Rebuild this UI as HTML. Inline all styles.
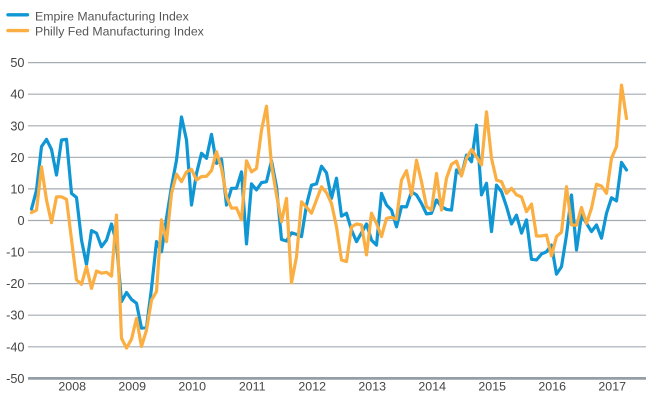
<!DOCTYPE html>
<html>
<head>
<meta charset="utf-8">
<style>
  html, body { margin: 0; padding: 0; background: #ffffff; }
  body { width: 650px; height: 400px; overflow: hidden; }
  svg { display: block; font-family: "Liberation Sans", Arial, sans-serif; }
</style>
</head>
<body>
<svg width="650" height="400" viewBox="0 0 650 400" xmlns="http://www.w3.org/2000/svg">
  <rect x="0" y="0" width="650" height="400" fill="#ffffff"/>

  <!-- Legend -->
  <line x1="8" y1="14.8" x2="27.5" y2="14.8" stroke="#0f96d4" stroke-width="3.4" stroke-linecap="round"/>
  <line x1="8" y1="30.6" x2="27.5" y2="30.6" stroke="#fbae42" stroke-width="3.4" stroke-linecap="round"/>
  <text x="35" y="20.6" font-size="12.3" fill="#555555">Empire Manufacturing Index</text>
  <text x="35" y="35.6" font-size="12.3" fill="#555555">Philly Fed Manufacturing Index</text>

  <!-- Gridlines -->
  <g stroke="#a3abb3" stroke-width="1.2">
    <line x1="28" y1="62.6" x2="646" y2="62.6"/>
    <line x1="28" y1="94.2" x2="646" y2="94.2"/>
    <line x1="28" y1="125.8" x2="646" y2="125.8"/>
    <line x1="28" y1="157.3" x2="646" y2="157.3"/>
    <line x1="28" y1="188.9" x2="646" y2="188.9"/>
    <line x1="28" y1="220.5" x2="646" y2="220.5"/>
    <line x1="28" y1="252.1" x2="646" y2="252.1"/>
    <line x1="28" y1="283.6" x2="646" y2="283.6"/>
    <line x1="28" y1="315.2" x2="646" y2="315.2"/>
    <line x1="28" y1="346.8" x2="646" y2="346.8"/>
  </g>
  <line x1="28" y1="378.4" x2="646" y2="378.4" stroke="#949ea7" stroke-width="2.8"/>

  <!-- Y labels -->
  <g font-size="12.7" fill="#444444" text-anchor="end">
    <text x="24.5" y="67.1">50</text>
    <text x="24.5" y="98.7">40</text>
    <text x="24.5" y="130.3">30</text>
    <text x="24.5" y="161.8">20</text>
    <text x="24.5" y="193.4">10</text>
    <text x="24.5" y="225">0</text>
    <text x="24.5" y="256.6">-10</text>
    <text x="24.5" y="288.1">-20</text>
    <text x="24.5" y="319.7">-30</text>
    <text x="24.5" y="351.3">-40</text>
    <text x="24.5" y="382.9">-50</text>
  </g>

  <!-- X labels -->
  <g font-size="12.4" fill="#444444" text-anchor="middle">
    <text x="72.2" y="390.7">2008</text>
    <text x="132.2" y="390.7">2009</text>
    <text x="192.2" y="390.7">2010</text>
    <text x="252.2" y="390.7">2011</text>
    <text x="312.2" y="390.7">2012</text>
    <text x="372.2" y="390.7">2013</text>
    <text x="432.2" y="390.7">2014</text>
    <text x="492.2" y="390.7">2015</text>
    <text x="552.2" y="390.7">2016</text>
    <text x="612.2" y="390.7">2017</text>
  </g>

  <!-- Series -->
  <g transform="matrix(5 0 0 -3.157 31.5 220.5)" fill="none" stroke-linejoin="round" stroke-linecap="round">
    <polyline vector-effect="non-scaling-stroke" stroke="#0f96d4" stroke-width="3.2" points="
0,3.6 1,9.6 2,23.4 3,25.7 4,22.5 5,14.4 6,25.5 7,25.7 8,8.6 9,7.3
10,-6.2 11,-14 12,-3.2 13,-4 14,-8.3 15,-6.2 16,-1.1 17,-7 18,-25.7 19,-22.8
20,-25 21,-26.2 22,-34.1 23,-33.9 24,-21.5 25,-6.7 26,-9.9 27,0.7 28,10.7 29,19.1
30,32.8 31,25.5 32,4.9 33,14.9 34,21.3 35,19.7 36,27.3 37,18.1 38,19.4 39,4.9
40,10.2 41,10.2 42,15.4 43,-7.4 44,11.6 45,9.7 46,12 47,12.3 48,18.9 49,10.7
50,-6 51,-6.5 52,-3.9 53,-4.4 54,-5.1 55,4.9 56,11.2 57,11.6 58,17.2 59,15.1
60,7 61,13.4 62,1.4 63,2.3 64,-3 65,-6.7 66,-3.9 67,-1.1 68,-6.2 69,-7.8
70,8.6 71,4.9 72,3.3 73,-2 74,4.4 75,4.3 76,9.1 77,8.1 78,5.4 79,2.1
80,2.3 81,6.5 82,4.4 83,3.5 84,3.3 85,16 86,14.4 87,20.7 88,18.6 89,30.2
90,8.1 91,11.8 92,-3.5 93,11.2 94,9.1 95,4.4 96,-1.1 97,1.7 98,-4 99,0.2
100,-12.3 101,-12.5 102,-10.6 103,-9.9 104,-7.8 105,-17 106,-14.6 107,-4.6 108,8.1 109,-9.3
110,1.7 111,-0.9 112,-3.5 113,-1.4 114,-5.6 115,2.3 116,7.2 117,6.2 118,18.4 119,16"/>
    <polyline vector-effect="non-scaling-stroke" stroke="#fbae42" stroke-width="3.2" points="
0,2.5 1,3.3 2,17 3,6.5 4,-0.7 5,7.5 6,7.5 7,6.7 8,-6 9,-18.8
10,-20.2 11,-14.6 12,-21.5 13,-16 14,-16.7 15,-16.4 16,-17.6 17,1.7 18,-37.3 19,-40.4
20,-37.6 21,-31 22,-39.9 23,-34.7 24,-25.2 25,-22.5 26,0.2 27,-6.7 28,8.6 29,14.7
30,12.3 31,15.4 32,16.2 33,12.8 34,13.9 35,14 36,15.8 37,21.8 38,16.5 39,7.5
40,3.9 41,4 42,0.2 43,18.9 44,15.4 45,16.5 46,28.6 47,36.2 48,17.6 49,8.1
50,-0.4 51,7 52,-19.7 53,-11.5 54,5.9 55,4.2 56,2.3 57,6.5 58,10.7 59,8.8
60,5.4 61,-2 62,-12.5 63,-13 64,-2 65,-1.1 66,-1.4 67,-10.9 68,2.3 69,-0.9
70,-5.1 71,0.7 72,1 73,0.4 74,12.8 75,15.8 76,8.1 77,19.1 78,12.3 79,4.4
80,3.3 81,14.9 82,3.3 83,13.4 84,17.8 85,18.8 86,14.1 87,19.7 88,22.5 89,20.2
90,17.6 91,34.4 92,19.7 93,12.8 94,12.3 95,8.6 96,10.2 97,8.1 98,7.5 99,2.8
100,5.2 101,-4.9 102,-4.9 103,-4.6 104,-11.2 105,-5.1 106,-3.7 107,10.7 108,-1.4 109,-1.5
110,4.1 111,-0.9 112,3.9 113,11.5 114,10.9 115,8.6 116,19.7 117,23.4 118,42.9 119,32.3"/>
  </g>
</svg>
</body>
</html>
